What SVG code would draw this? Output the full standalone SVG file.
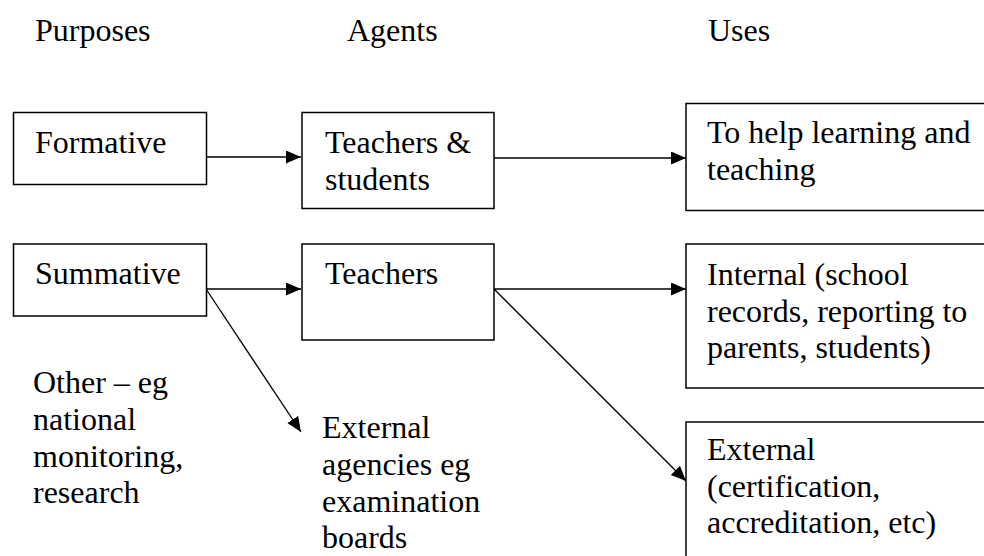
<svg xmlns="http://www.w3.org/2000/svg" width="984" height="556" viewBox="0 0 984 556">
<style>
  text { font-family: "Liberation Serif", "Times New Roman", serif; font-size: 32px; fill: #000; }
  .box { fill: #fff; stroke: #000; stroke-width: 1.5; }
  .conn { stroke: #000; stroke-width: 1.3; fill: none; marker-end: url(#arr); }
</style>
<defs>
  <marker id="arr" markerUnits="userSpaceOnUse" markerWidth="16" markerHeight="14" refX="15" refY="6.5" orient="auto">
    <path d="M0,0 L15,6.5 L0,13 Z" fill="#000"/>
  </marker>
</defs>
<rect width="984" height="556" fill="#fff"/>
<g id="headers">
  <text x="35" y="41">Purposes</text>
  <text x="347" y="41">Agents</text>
  <text x="708" y="41">Uses</text>
</g>
<g id="connectors">
  <line class="conn" x1="206" y1="157" x2="301" y2="157"/>
  <line class="conn" x1="494" y1="158" x2="686" y2="158"/>
  <line class="conn" x1="206" y1="289" x2="301" y2="289"/>
  <line class="conn" x1="206" y1="289" x2="301" y2="432"/>
  <line class="conn" x1="494" y1="289" x2="686" y2="289"/>
  <line class="conn" x1="494" y1="289" x2="686" y2="481"/>
</g>
<g id="formative">
  <rect class="box" x="13.5" y="112.5" width="193" height="72"/>
  <text x="35" y="153">Formative</text>
</g>
<g id="teachers-students">
  <rect class="box" x="302" y="112.5" width="192" height="96"/>
  <text x="325" y="153">Teachers &amp;</text>
  <text x="325" y="190">students</text>
</g>
<g id="help-learning">
  <rect class="box" x="686" y="103.5" width="320" height="107"/>
  <text x="707" y="143">To help learning and</text>
  <text x="707" y="180">teaching</text>
</g>
<g id="summative">
  <rect class="box" x="13.5" y="244" width="193" height="72"/>
  <text x="35" y="284">Summative</text>
</g>
<g id="teachers">
  <rect class="box" x="302" y="244" width="192" height="96"/>
  <text x="325" y="284">Teachers</text>
</g>
<g id="internal">
  <rect class="box" x="686" y="244" width="320" height="144"/>
  <text x="707" y="285">Internal (school</text>
  <text x="707" y="322">records, reporting to</text>
  <text x="707" y="358">parents, students)</text>
</g>
<g id="external-uses">
  <rect class="box" x="686" y="422" width="320" height="160"/>
  <text x="707" y="460">External</text>
  <text x="707" y="497">(certification,</text>
  <text x="707" y="533">accreditation, etc)</text>
</g>
<g id="other">
  <text x="33" y="393">Other – eg</text>
  <text x="33" y="430">national</text>
  <text x="33" y="467">monitoring,</text>
  <text x="33" y="503">research</text>
</g>
<g id="external-agencies">
  <text x="322" y="438">External</text>
  <text x="322" y="475">agencies eg</text>
  <text x="322" y="512">examination</text>
  <text x="322" y="548">boards</text>
</g>
</svg>
